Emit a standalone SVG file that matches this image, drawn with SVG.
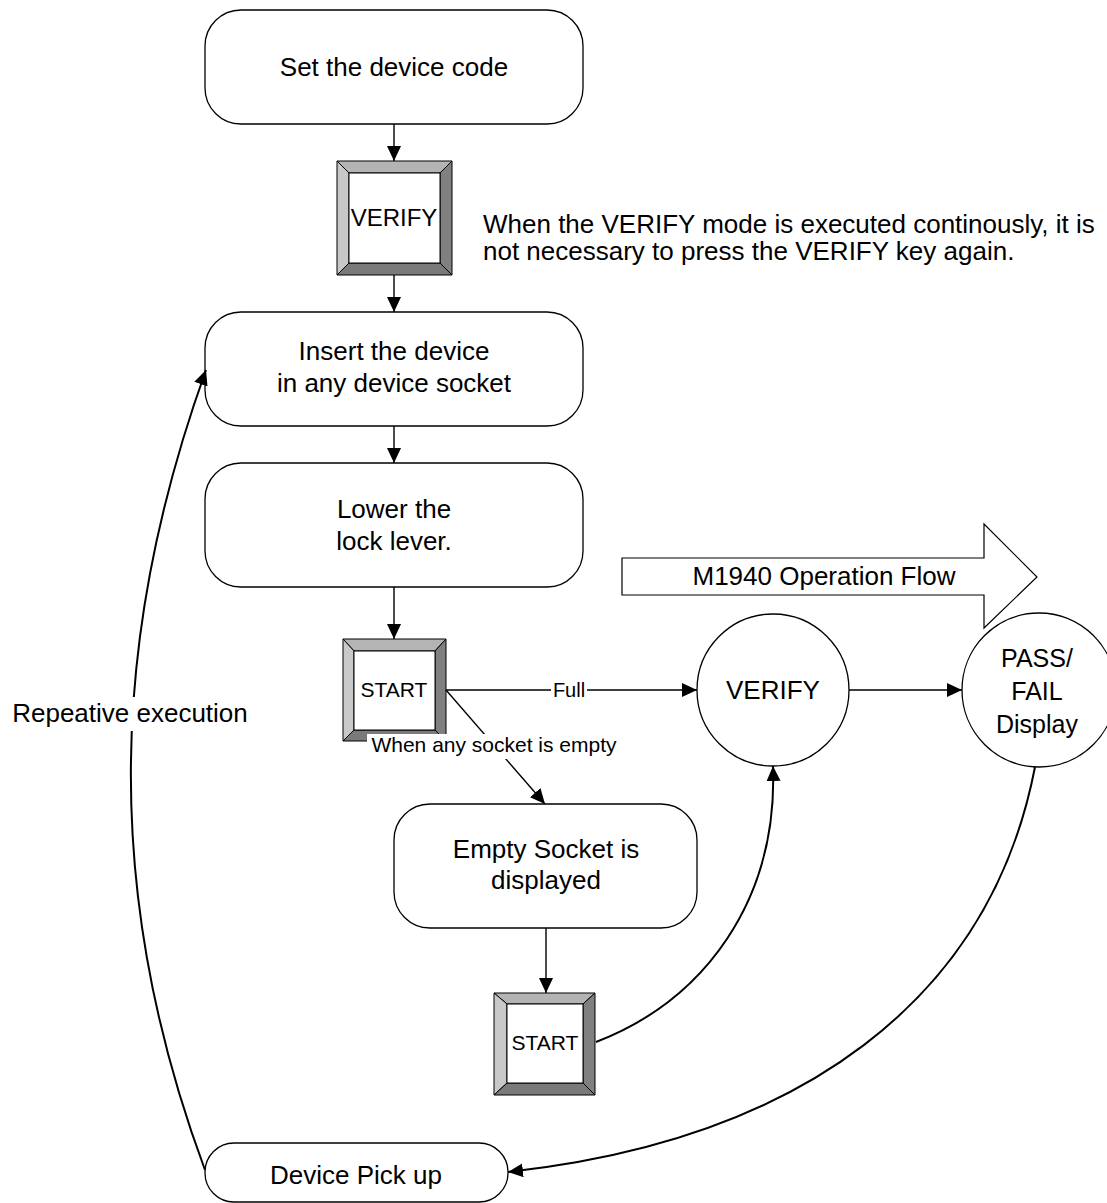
<svg xmlns="http://www.w3.org/2000/svg" width="1107" height="1203" viewBox="0 0 1107 1203">
<defs>
<style>
text{font-family:"Liberation Sans",Arial,sans-serif;fill:#000}
.box{fill:#fff;stroke:#000;stroke-width:1.3}
.t26{font-size:26px}
.t25{font-size:25px}
.mid{text-anchor:middle}
.conn{fill:none;stroke:#000;stroke-width:1.4}
.curve{fill:none;stroke:#000;stroke-width:2}
.bt{fill:#b4b4b4;stroke:#000;stroke-width:1}
.bl{fill:#c8c8c8;stroke:#000;stroke-width:1}
.br{fill:#808080;stroke:#000;stroke-width:1}
.bb{fill:#7a7a7a;stroke:#000;stroke-width:1}
.face{fill:#fff;stroke:#000;stroke-width:1}
</style>
<marker id="ah" markerUnits="userSpaceOnUse" markerWidth="16" markerHeight="14" refX="15" refY="7" orient="auto">
<path d="M0,0 L15,7 L0,14 Z" fill="#000"/>
</marker>
</defs>
<rect width="1107" height="1203" fill="#fff"/>

<g id="set-code">
<rect class="box" x="205" y="10" width="378" height="114" rx="36"/>
<text x="394" y="76" class="t26 mid">Set the device code</text>
</g>

<g id="verify-key">
<polygon class="bt" points="337,161 452,161 440,173 349,173"/>
<polygon class="bl" points="337,161 349,173 349,263 337,275"/>
<polygon class="br" points="452,161 452,275 440,263 440,173"/>
<polygon class="bb" points="337,275 349,263 440,263 452,275"/>
<rect class="face" x="349" y="173" width="91" height="90"/>
<text x="394" y="226" class="mid" style="font-size:24px">VERIFY</text>
</g>

<g id="note">
<text x="483" y="233" class="t26">When the VERIFY mode is executed continously, it is</text>
<text x="483" y="260" class="t26">not necessary to press the VERIFY key again.</text>
</g>

<g id="insert">
<rect class="box" x="205" y="312" width="378" height="114" rx="36"/>
<text x="394" y="360" class="t26 mid">Insert the device</text>
<text x="394" y="392" class="t26 mid">in any device socket</text>
</g>

<g id="lower">
<rect class="box" x="205" y="463" width="378" height="124" rx="36"/>
<text x="394" y="518" class="t26 mid">Lower the</text>
<text x="394" y="550" class="t26 mid">lock lever.</text>
</g>

<g id="start-key-1">
<polygon class="bt" points="343,639 446,639 435,651 354,651"/>
<polygon class="bl" points="343,639 354,651 354,730 343,741"/>
<polygon class="br" points="446,639 446,741 435,730 435,651"/>
<polygon class="bb" points="343,741 354,730 435,730 446,741"/>
<rect class="face" x="354" y="651" width="81" height="79"/>
<text x="394" y="697" class="mid" style="font-size:21px">START</text>
</g>

<g id="flow-arrow">
<polygon fill="#fff" stroke="#000" stroke-width="1.2" points="622,558 984,558 984,524 1037,577 984,628 984,595 622,595"/>
<text x="824" y="585" class="t26 mid">M1940 Operation Flow</text>
</g>

<g id="verify-circle">
<circle cx="773" cy="690" r="76" fill="#fff" stroke="#000" stroke-width="1.3"/>
<text x="773" y="699" class="t26 mid">VERIFY</text>
</g>

<g id="pass-fail">
<circle cx="1039" cy="690" r="77" fill="#fff" stroke="#000" stroke-width="1.3"/>
<text x="1037" y="667" class="t25 mid">PASS/</text>
<text x="1037" y="700" class="t25 mid">FAIL</text>
<text x="1037" y="733" class="t25 mid">Display</text>
</g>

<g id="empty-socket">
<rect class="box" x="394" y="804" width="303" height="124" rx="36"/>
<text x="546" y="858" class="t26 mid">Empty Socket is</text>
<text x="546" y="889" class="t26 mid">displayed</text>
</g>

<g id="start-key-2">
<polygon class="bt" points="494,993 595,993 583,1004 507,1004"/>
<polygon class="bl" points="494,993 507,1004 507,1083 494,1095"/>
<polygon class="br" points="595,993 595,1095 583,1083 583,1004"/>
<polygon class="bb" points="494,1095 507,1083 583,1083 595,1095"/>
<rect class="face" x="507" y="1004" width="76" height="79"/>
<text x="545" y="1050" class="mid" style="font-size:21px">START</text>
</g>

<g id="pick-up">
<rect class="box" x="205" y="1143" width="303" height="59" rx="29"/>
<text x="356" y="1184" class="t26 mid">Device Pick up</text>
</g>

<g id="connectors">
<line class="conn" x1="394" y1="124" x2="394" y2="161" marker-end="url(#ah)"/>
<line class="conn" x1="394" y1="275" x2="394" y2="312" marker-end="url(#ah)"/>
<line class="conn" x1="394" y1="426" x2="394" y2="463" marker-end="url(#ah)"/>
<line class="conn" x1="394" y1="587" x2="394" y2="639" marker-end="url(#ah)"/>
<line class="conn" x1="446" y1="690" x2="697" y2="690" marker-end="url(#ah)"/>
<line class="conn" x1="446" y1="690" x2="545" y2="804" marker-end="url(#ah)"/>
<line class="conn" x1="849" y1="690" x2="962" y2="690" marker-end="url(#ah)"/>
<line class="conn" x1="546" y1="928" x2="546" y2="993" marker-end="url(#ah)"/>
<path class="curve" d="M596,1042 C705,1000 778,900 773,766" marker-end="url(#ah)"/>
<path class="curve" d="M1035,767 C990,1000 800,1140 508,1172" marker-end="url(#ah)"/>
<path class="curve" d="M205,1170 C104,898 108,642 206,370" marker-end="url(#ah)"/>
<rect x="551" y="678" width="36" height="24" fill="#fff"/>
<text x="569" y="697" class="mid" style="font-size:20px">Full</text>
<rect x="367" y="734" width="254" height="25" fill="#fff"/>
<text x="494" y="752" class="mid" style="font-size:21px">When any socket is empty</text>
<rect x="8" y="697" width="244" height="34" fill="#fff"/>
<text x="130" y="722" class="t26 mid">Repeative execution</text>
</g>
</svg>
